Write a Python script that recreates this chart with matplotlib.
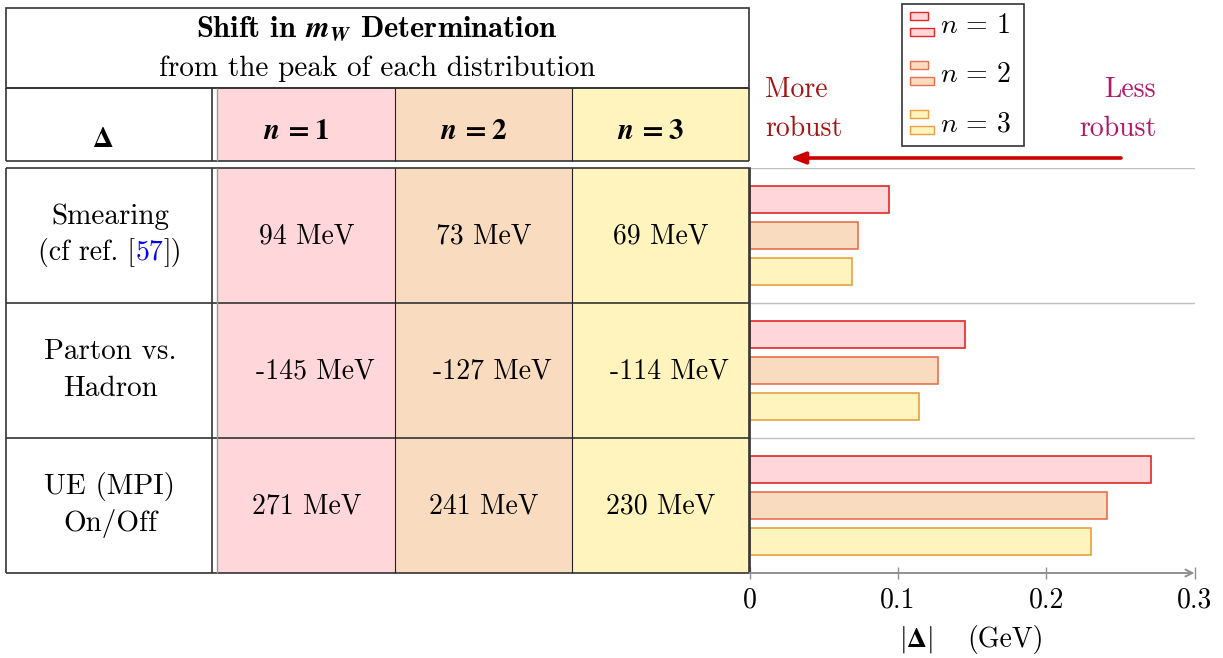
import matplotlib
matplotlib.use("Agg")
import matplotlib.pyplot as plt
from matplotlib.patches import Rectangle
from matplotlib.offsetbox import TextArea, HPacker, AnnotationBbox
import numpy as np

plt.rcParams['font.family'] = 'cmr10'
plt.rcParams['mathtext.fontset'] = 'cm'
plt.rcParams['axes.formatter.use_mathtext'] = True

# data (MeV)
labels_top = ["Smearing", "Parton vs.", "UE (MPI)"]
labels_bottom = ["(cf ref. [57])", "Hadron", "On/Off"]
series = [r"$n\,=\,1$", r"$n\,=\,2$", r"$n\,=\,3$"]
shift_n1 = [94, -145, 271]
shift_n2 = [73, -127, 241]
shift_n3 = [69, -114, 230]
ticks = [0, 0.1, 0.2, 0.3]
tick_labels = ["0", "0.1", "0.2", "0.3"]

fills = ['#FFD6D9', '#F9DBC0', '#FFF4BE']
edges = ['#E02828', '#E8704E', '#E8A040']
FS = 20
FL = 21

fig = plt.figure(figsize=(12.23, 6.58), dpi=100)

# overlay in pixel coords for the table
tab = fig.add_axes([0, 0, 1, 1])
tab.set_xlim(0, 1223)
tab.set_ylim(658, 0)
tab.axis('off')

cols = [218, 395, 572, 749]
row_y = [168, 303, 438, 573]
for k in range(3):
    for (y0, y1) in [(88, 161), (168, 573)]:
        tab.add_patch(Rectangle((cols[k], y0), cols[k + 1] - cols[k], y1 - y0,
                                facecolor=fills[k], edgecolor='none', zorder=1))

lc = '#333333'
tab.add_patch(Rectangle((6, 8), 743, 80, facecolor='none', edgecolor=lc, lw=1.2, zorder=3))
tab.hlines([88, 161], 6, 749, color=lc, lw=1.2, zorder=3)
tab.hlines(row_y, 6, 749, color=lc, lw=1.2, zorder=3)
for (y0, y1) in [(88, 161), (168, 573)]:
    tab.vlines([6, 212, 749], y0, y1, color=lc, lw=1.2, zorder=3)
    tab.vlines([217], y0, y1, color='#999999', lw=1.0, zorder=3)
    tab.vlines([395, 572], y0, y1, color='#222222', lw=0.8, zorder=3)

tab.text(377, 29, r"Shift in $\boldsymbol{m}_{\boldsymbol{W}}$ Determination", fontfamily='cmb10',
         math_fontfamily='stix', ha='center', va='center', fontsize=22, zorder=4)
tab.text(377, 69, "from the peak of each distribution", ha='center', va='center',
         fontsize=FL, zorder=4)
tab.text(103, 140, r"$\mathbf{\Delta}$", math_fontfamily='stix', ha='center', va='center',
         fontsize=FL, zorder=4)
for k in range(3):
    cx = (cols[k] + cols[k + 1]) / 2 - 10
    tab.text(cx, 132, r"$\boldsymbol{n\,=\,%d}$" % (k + 1), math_fontfamily='stix',
             ha='center', va='center', fontsize=FL, zorder=4)

values = [shift_n1, shift_n2, shift_n3]
for i in range(3):
    yc = (row_y[i] + row_y[i + 1]) / 2
    tab.text(110, yc - 19, labels_top[i], ha='center', va='center', fontsize=FL, zorder=4)
    if i == 0:
        parts = [TextArea("(cf ref. [", textprops=dict(fontsize=FS, color='black')),
                 TextArea("57", textprops=dict(fontsize=FS, color='#0000FF')),
                 TextArea("])", textprops=dict(fontsize=FS, color='black'))]
        box = HPacker(children=parts, pad=0, sep=0, align='baseline')
        tab.add_artist(AnnotationBbox(box, (110, yc + 17), frameon=False, box_alignment=(0.5, 0.5),
                                      zorder=4))
    else:
        tab.text(110, yc + 18, labels_bottom[i], ha='center', va='center', fontsize=FL, zorder=4)
    for k in range(3):
        cx = (cols[k] + cols[k + 1]) / 2
        v = values[k][i]
        if v < 0:
            cx += 9
        tab.text(cx, yc + 1, "%d MeV" % v, ha='center', va='center', fontsize=FS, zorder=4)

# robustness annotation
tab.text(765, 90, "More", color='#A31515', ha='left', va='center', fontsize=FS)
tab.text(765, 129, "robust", color='#A31515', ha='left', va='center', fontsize=FS)
tab.text(1156, 90, "Less", color='#B0176A', ha='right', va='center', fontsize=FS)
tab.text(1156, 129, "robust", color='#B0176A', ha='right', va='center', fontsize=FS)
tab.annotate('', xy=(790, 158), xytext=(1121, 158),
             arrowprops=dict(arrowstyle='-|>,head_length=0.9,head_width=0.35',
                             color='#CC0000', lw=2.6, shrinkA=0, shrinkB=0))

# legend
tab.add_patch(Rectangle((902, 4), 122, 142, facecolor='white', edgecolor=lc, lw=1.2, zorder=5))
for k in range(3):
    dy = 49 * k
    tab.add_patch(Rectangle((910, 12 + dy), 18, 8, facecolor=fills[k], edgecolor=edges[k],
                            lw=1.0, zorder=6))
    tab.add_patch(Rectangle((910, 28 + dy), 24, 8, facecolor=fills[k], edgecolor=edges[k],
                            lw=1.0, zorder=6))
    tab.text(940, 26 + dy, series[k], ha='left', va='center', fontsize=FS, zorder=6)

# bar chart
left = 749.5 / 1223
right = 1194.5 / 1223
bottom = (658 - 573) / 658
top = (658 - 168) / 658
ax = fig.add_axes([left, bottom, right - left, top - bottom])
ax.patch.set_alpha(0)
y = np.arange(3)
offs = [-0.265, 0, 0.265]
for k in range(3):
    ax.barh(y + offs[k], np.abs(values[k]) / 1000.0, height=0.2, color=fills[k],
            edgecolor=edges[k], lw=1.2, zorder=2)
ax.hlines([-0.5, 0.5, 1.5], 0, 0.3, color='#C0C0C0', lw=1.0, zorder=1)
ax.set_xlim(0, 0.3)
ax.set_ylim(2.5, -0.5)
for s in ['top', 'right', 'bottom']:
    ax.spines[s].set_visible(False)
ax.spines['left'].set_color('#333333')
ax.spines['left'].set_linewidth(1.2)
ax.set_yticks([])
ax.set_xticks(ticks)
ax.set_xticklabels(tick_labels, fontsize=FS)
ax.tick_params(axis='x', direction='inout', length=8, width=1.0, color='#909090', pad=6)
ax.annotate('', xy=(1.0, 0), xytext=(0, 0), xycoords='axes fraction',
            arrowprops=dict(arrowstyle='->,head_length=0.5,head_width=0.25', color='#909090',
                            lw=1.4, shrinkA=0, shrinkB=0), annotation_clip=False)

# x label: |Delta|  (GeV)
absd = HPacker(children=[TextArea("$|$", textprops=dict(fontsize=FS)),
                         TextArea(r"$\mathbf{\Delta}$",
                                  textprops=dict(fontsize=FS, math_fontfamily='stix')),
                         TextArea("$|$", textprops=dict(fontsize=FS))],
               pad=0, sep=0, align='baseline')
xlab = HPacker(children=[absd, TextArea("(GeV)", textprops=dict(fontsize=FS))],
               pad=0, sep=25, align='baseline')
ax.add_artist(AnnotationBbox(xlab, (0.499, -0.165), xycoords='axes fraction', frameon=False,
                             box_alignment=(0.5, 0.5), annotation_clip=False))

fig.savefig("out.png", dpi=100)
